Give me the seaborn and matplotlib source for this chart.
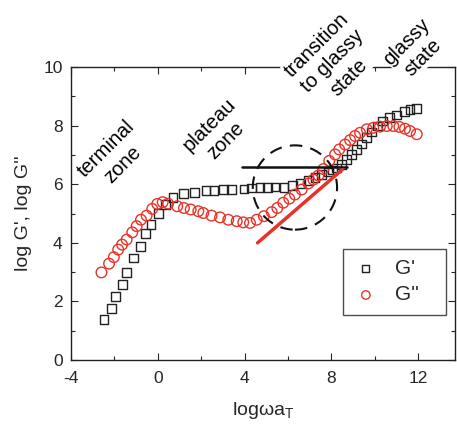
import numpy as np
import pandas as pd
import matplotlib
matplotlib.use("Agg")
import matplotlib.pyplot as plt
from matplotlib.patches import Ellipse
from matplotlib.ticker import MultipleLocator
import seaborn as sns

# G' (storage modulus) data
gp_x = [-2.47, -2.11, -1.93, -1.63, -1.42, -1.10, -0.79, -0.56, -0.31, 0.02, 0.35,
        0.71, 1.18, 1.71, 2.22, 2.59, 3.02, 3.40, 3.97, 4.33, 4.71, 5.05, 5.40,
        5.82, 6.22, 6.59, 6.94, 7.24, 7.55, 7.85, 8.05, 8.24, 8.47, 8.70, 8.94,
        9.17, 9.40, 9.63, 9.86, 10.12, 10.36, 10.67, 11.01, 11.35, 11.62, 11.93]
gp_y = [1.37, 1.77, 2.17, 2.57, 2.99, 3.48, 3.88, 4.31, 4.62, 4.99, 5.30,
        5.54, 5.68, 5.72, 5.78, 5.79, 5.81, 5.82, 5.84, 5.87, 5.88, 5.88, 5.91,
        5.88, 5.97, 6.04, 6.12, 6.23, 6.33, 6.42, 6.49, 6.56, 6.68, 6.85, 7.02,
        7.19, 7.38, 7.59, 7.79, 7.99, 8.16, 8.27, 8.37, 8.50, 8.56, 8.60]

# G'' (loss modulus) data
gpp_x = [-2.59, -2.24, -2.02, -1.82, -1.64, -1.43, -1.17, -0.97, -0.77, -0.51,
         -0.25, -0.02, 0.23, 0.48, 0.90, 1.21, 1.52, 1.87, 2.10, 2.48, 2.87,
         3.25, 3.64, 3.94, 4.25, 4.56, 4.89, 5.25, 5.51, 5.78, 6.06, 6.32, 6.63,
         6.94, 7.17, 7.40, 7.63, 7.90, 8.17, 8.36, 8.63, 8.86, 9.09, 9.32, 9.63,
         9.93, 10.24, 10.55, 10.85, 11.13, 11.39, 11.62, 11.93]
gpp_y = [2.99, 3.29, 3.51, 3.77, 3.94, 4.11, 4.36, 4.57, 4.79, 4.93,
         5.16, 5.33, 5.39, 5.34, 5.25, 5.19, 5.14, 5.08, 5.02, 4.93, 4.87,
         4.79, 4.74, 4.70, 4.68, 4.79, 4.91, 5.05, 5.19, 5.37, 5.51, 5.65, 5.82,
         6.03, 6.16, 6.30, 6.52, 6.80, 7.02, 7.19, 7.36, 7.51, 7.65, 7.76, 7.88,
         7.93, 7.97, 7.99, 7.99, 7.96, 7.90, 7.82, 7.71]

# guide lines
black_line_x = [3.9, 8.7]
black_line_y = [6.6, 6.6]
red_line_x = [4.6, 8.5]
red_line_y = [4.0, 6.5]
circle_center = (6.32, 5.89)

zone_labels = ["terminal\nzone", "plateau\nzone", "transition\nto glassy\nstate", "glassy\nstate"]
zone_x = [-2.0, 2.75, 8.05, 11.85]
zone_y = [6.95, 7.75, 10.2, 10.6]

RED = "#e8332a"

sns.set_style("ticks")
plt.rcParams["font.family"] = ["Liberation Sans", "DejaVu Sans"]
plt.rcParams["mathtext.fontset"] = "custom"
plt.rcParams["mathtext.rm"] = "Liberation Sans"
plt.rcParams["mathtext.it"] = "Liberation Sans"
plt.rcParams["axes.unicode_minus"] = False

fig = plt.figure(figsize=(4.57, 4.28), dpi=100)
ax = fig.add_axes([0.155, 0.159, 0.841, 0.684])

sns.scatterplot(x=gp_x, y=gp_y, marker="s", s=40, facecolor="none",
                edgecolor="#222222", linewidth=1.0, label="G'", ax=ax, zorder=3)
sns.scatterplot(x=gpp_x, y=gpp_y, marker="o", s=58, facecolor="none",
                edgecolor=RED, linewidth=1.0, label="G''", ax=ax, zorder=4)

ax.plot(black_line_x, black_line_y, color="#111111", lw=1.8, zorder=5)
ax.plot(red_line_x, red_line_y, color=RED, lw=2.5, zorder=5)
ax.add_patch(Ellipse(circle_center, width=3.88, height=2.88, fill=False,
                     edgecolor="#111111", lw=1.5, linestyle=(0, (6, 4)), zorder=5))

for lab, tx, ty in zip(zone_labels, zone_x, zone_y):
    ax.text(tx, ty, lab, rotation=45, ha="center", va="center", multialignment="center",
            fontsize=14.5, linespacing=1.25, color="black", clip_on=False, zorder=10,
            bbox=dict(facecolor="white", edgecolor="none", pad=0.5))

ax.set_xlim(-4, 13.7)
ax.set_ylim(0, 10)
ax.xaxis.set_major_locator(MultipleLocator(4))
ax.xaxis.set_minor_locator(MultipleLocator(2))
ax.yaxis.set_major_locator(MultipleLocator(2))
ax.yaxis.set_minor_locator(MultipleLocator(1))
ax.tick_params(which="both", direction="in", top=True, right=True, labelsize=12.5, width=0.8)
ax.tick_params(which="major", length=5)
ax.tick_params(which="minor", length=3)
ax.tick_params(axis="x", pad=8)
ax.tick_params(axis="y", pad=6)
for sp in ax.spines.values():
    sp.set_linewidth(1.0)
    sp.set_color("#222222")

ax.set_xlabel("logωa$_{\\rm T}$", fontsize=14, labelpad=10)
ax.set_ylabel("log G', log G''", fontsize=14, labelpad=8)

leg = ax.legend(loc="lower left", bbox_to_anchor=(0.708, 0.154, 0.269, 0.222),
                mode="expand", borderaxespad=0,
                fontsize=15, frameon=True, fancybox=False, edgecolor="#222222",
                markerscale=0.8, handletextpad=0.8, borderpad=0.5, labelspacing=0.35,
                handlelength=1.2)
leg.get_frame().set_linewidth(1.0)
leg.set_zorder(6)

fig.savefig("out.png", dpi=100)
